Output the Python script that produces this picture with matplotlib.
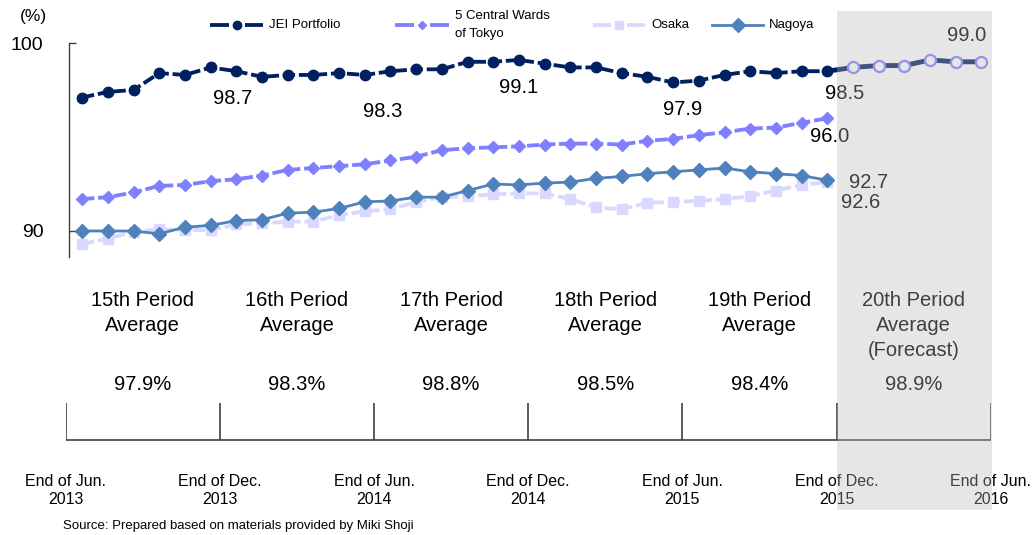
import matplotlib
matplotlib.use("Agg")
import matplotlib.pyplot as plt
from matplotlib.lines import Line2D
from matplotlib.patches import Rectangle
import numpy as np

plt.rcParams["font.family"] = ["Liberation Sans", "DejaVu Sans"]

# monthly occupancy rates (%), Jul 2013 .. Dec 2015
jei_portfolio = [97.1, 97.4, 97.5, 98.4, 98.3, 98.7,
                 98.5, 98.2, 98.3, 98.3, 98.4, 98.3,
                 98.5, 98.6, 98.6, 99.0, 99.0, 99.1,
                 98.9, 98.7, 98.7, 98.4, 98.2, 97.9,
                 98.0, 98.3, 98.5, 98.4, 98.5, 98.5]
central_wards = [91.7, 91.8, 92.05, 92.4, 92.45, 92.65,
                 92.75, 92.95, 93.25, 93.35, 93.45, 93.55,
                 93.75, 93.95, 94.3, 94.4, 94.45, 94.5,
                 94.6, 94.65, 94.65, 94.6, 94.8, 94.9,
                 95.1, 95.25, 95.45, 95.5, 95.75, 96.0]
osaka = [89.3, 89.6, 89.95, 90.1, 90.05, 90.05,
         90.35, 90.4, 90.5, 90.5, 90.85, 91.05,
         91.15, 91.55, 91.8, 91.85, 91.95, 92.0,
         92.0, 91.7, 91.25, 91.15, 91.5, 91.55,
         91.6, 91.7, 91.85, 92.15, 92.45, 92.6]
nagoya = [90.0, 90.0, 90.0, 89.85, 90.2, 90.3,
          90.55, 90.6, 90.95, 91.0, 91.2, 91.55,
          91.6, 91.8, 91.8, 92.15, 92.5, 92.45,
          92.55, 92.6, 92.8, 92.9, 93.05, 93.15,
          93.25, 93.35, 93.15, 93.05, 92.95, 92.7]
# JEI forecast, Jan 2016 .. Jun 2016
jei_forecast = [98.7, 98.8, 98.8, 99.1, 99.0, 99.0]

period_names = ["15th Period\nAverage", "16th Period\nAverage", "17th Period\nAverage",
                "18th Period\nAverage", "19th Period\nAverage",
                "20th Period\nAverage\n(Forecast)"]
period_avgs = [97.9, 98.3, 98.8, 98.5, 98.4, 98.9]
date_labels = ["End of Jun.\n2013", "End of Dec.\n2013", "End of Jun.\n2014",
               "End of Dec.\n2014", "End of Jun.\n2015", "End of Dec.\n2015",
               "End of Jun.\n2016"]

NAVY = "#002060"
PURPLE = "#8080FF"
LAVENDER = "#D9D9FF"
STEEL = "#4F81BD"

W, H = 1033, 535


def fx(px):
    return px / W


def fy(py):
    return 1 - py / H


fig = plt.figure(figsize=(W / 100, H / 100), dpi=100)

# ---- line chart
ax = fig.add_axes([fx(69.3), fy(257), 925 / W, (257 - 43) / H])
ax.set_xlim(-0.5, 35.5)
ax.set_ylim(88.617, 100)
for s in ("top", "right", "bottom"):
    ax.spines[s].set_visible(False)
ax.spines["left"].set_color("#404040")
ax.spines["left"].set_linewidth(1.0)
ax.set_xticks([])
ax.set_yticks([90, 100])
ax.tick_params(axis="y", direction="in", length=5, width=1.0, color="#404040",
               labelsize=14, pad=18.5)

n = len(jei_portfolio)
x = np.arange(n)
xf = np.arange(n - 1, n + len(jei_forecast))

ax.plot(x, osaka, color=LAVENDER, lw=2.75, dashes=(3.2, 1.0), marker="s",
        ms=7.5, mec=LAVENDER, clip_on=False, zorder=2)
ax.plot(x, nagoya, color=STEEL, lw=2.0, marker="D", ms=7.5, mec=STEEL,
        clip_on=False, zorder=3)
ax.plot(x, central_wards, color=PURPLE, lw=2.75, dashes=(3.2, 1.0), marker="D",
        ms=6.5, mec=PURPLE, clip_on=False, zorder=4)
ax.plot(x, jei_portfolio, color=NAVY, lw=2.75, dashes=(3.2, 1.0), marker="o",
        ms=7.5, mec=NAVY, clip_on=False, zorder=5)
ax.plot(xf, [jei_portfolio[-1]] + jei_forecast, color=NAVY, lw=3.5,
        clip_on=False, zorder=5)
ax.plot(xf[1:], jei_forecast, ls="none", marker="o", ms=8, mfc="white",
        mec=PURPLE, mew=1.6, clip_on=False, zorder=6)


def value_label(i, v, dx, dy):
    # dx, dy in pixels (screen, y down)
    ax.annotate(f"{v:.1f}", (i, v), xytext=(dx * 0.72, -dy * 0.72),
                textcoords="offset points", ha="center", va="center",
                fontsize=14.5, color="black", zorder=7)


for i, dx, dy in [(5, 22, -31), (11, 18, -37), (17, 0, -28), (23, 10, -27), (29, 17, -22)]:
    value_label(i, jei_portfolio[i], dx, -dy)
value_label(n + len(jei_forecast) - 1, jei_forecast[-1], -15, -26)
value_label(n - 1, central_wards[-1], 2.5, 18)
value_label(n - 1, nagoya[-1], 41.5, 2)
value_label(n - 1, osaka[-1], 33.5, 20)

fig.text(fx(33), fy(17), "(%)", ha="center", va="center", fontsize=12.5)

# ---- period averages and date axis
bax = fig.add_axes([fx(65.7), fy(515), 925 / W, (515 - 280) / H])
bax.set_xlim(0, 36)
bax.set_ylim(515, 280)
bax.axis("off")
bounds = np.arange(0, 37, 6)
bax.vlines(bounds, 403, 440, color="#404040", lw=1.2)
bax.hlines(440, 0, 36, color="#404040", lw=1.2)

for k, (name, avg) in enumerate(zip(period_names, period_avgs)):
    cx = bounds[k] + 3
    for j, line in enumerate(name.split("\n")):
        bax.text(cx, 300 + 25.5 * j, line, ha="center", va="center", fontsize=14.5)
    bax.text(cx, 385, f"{avg:.1f}%", ha="center", va="center", fontsize=14.5)

for b, lab in zip(bounds, date_labels):
    top, bottom = lab.split("\n")
    bax.text(b, 481, top, ha="center", va="center", fontsize=11.5)
    bax.text(b, 499.5, bottom, ha="center", va="center", fontsize=11.5)

fig.text(fx(63), fy(526), "Source: Prepared based on materials provided by Miki Shoji",
         ha="left", va="center", fontsize=9.5)

# ---- legend
legend_items = [
    ("JEI Portfolio", NAVY, "o", 6, True, 210, 263),
    ("5 Central Wards\nof Tokyo", PURPLE, "D", 4.5, True, 395, 449),
    ("Osaka", LAVENDER, "s", 6, True, 593, 645),
    ("Nagoya", STEEL, "D", 7, False, 712, 763),
]
ly = 25
for label, color, mk, ms, dashed, x0, x1 in legend_items:
    xm = (x0 + x1) / 2
    if dashed:
        gap = 8
        for a, b in [(x0, xm - gap), (xm + gap, x1)]:
            fig.add_artist(Line2D([fx(a), fx(b)], [fy(ly), fy(ly)], color=color,
                                  lw=2.75, solid_capstyle="butt",
                                  transform=fig.transFigure))
    else:
        fig.add_artist(Line2D([fx(x0), fx(x1)], [fy(ly), fy(ly)], color=color,
                              lw=2.0, transform=fig.transFigure))
    fig.add_artist(Line2D([fx(xm)], [fy(ly)], marker=mk, ms=ms, color=color,
                          mec=color, ls="none", transform=fig.transFigure))
    fig.text(fx(x1 + 6), fy(ly), label, ha="left", va="center", fontsize=9.5,
             linespacing=1.6)

# ---- forecast shading over the last period
fig.add_artist(Rectangle((fx(836.7), fy(510)), (991.7 - 836.7) / W, (510 - 11) / H,
                         transform=fig.transFigure, facecolor=(0.72, 0.72, 0.72),
                         alpha=0.35, edgecolor="none", zorder=10))

fig.savefig("out.png", dpi=100)
